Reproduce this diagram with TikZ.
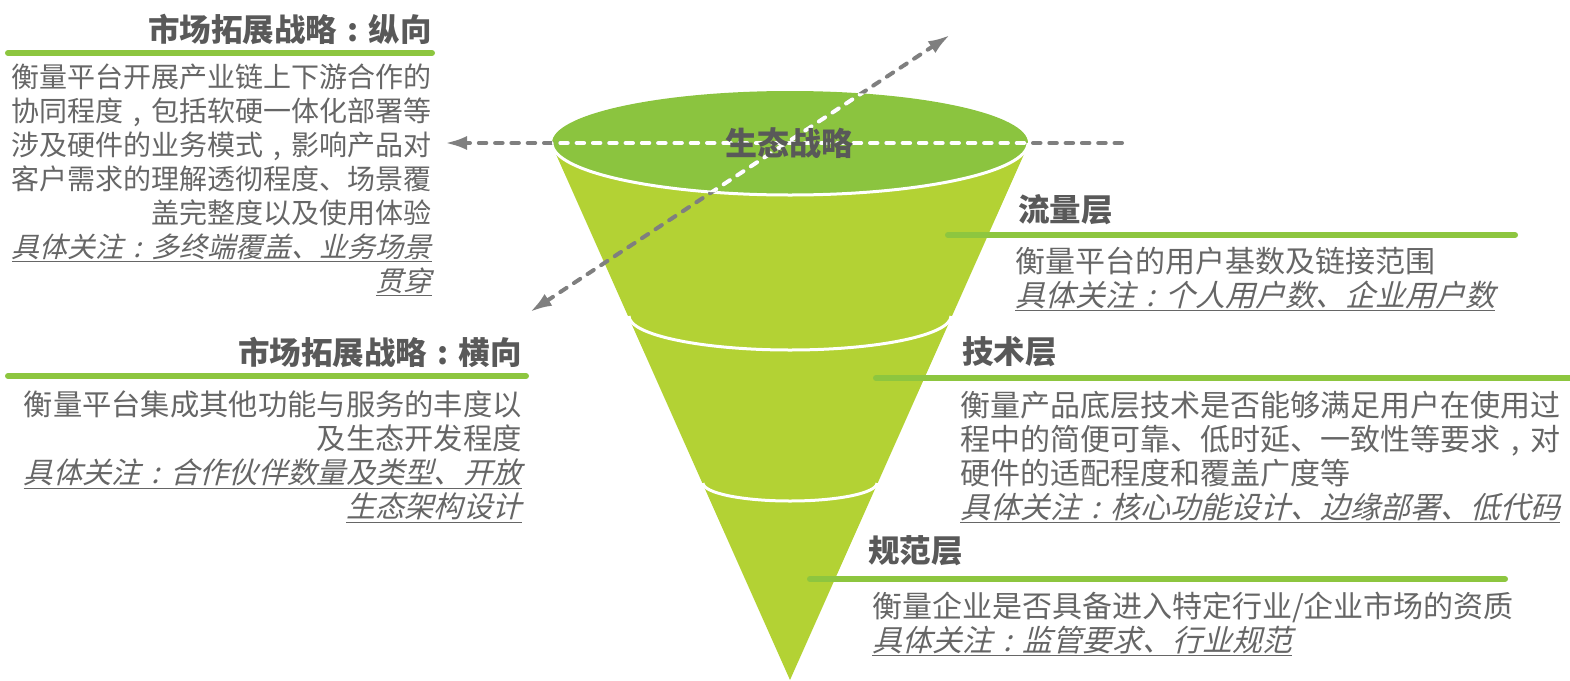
\documentclass[tikz,border=0pt]{standalone}
\usepackage{fontspec}
\setmainfont{Noto Sans CJK SC}
\newfontfamily\slantfont{Noto Sans CJK SC}[FakeSlant=0.25]
\usetikzlibrary{arrows.meta}
\definecolor{topgreen}{HTML}{8BC43F}
\definecolor{bodygreen}{HTML}{B3D234}
\definecolor{rulegreen}{HTML}{8DC63F}
\definecolor{headgray}{HTML}{595959}
\definecolor{textgray}{HTML}{666666}
\definecolor{arrowgray}{HTML}{7F7F7F}
\newcommand{\focus}[1]{{\slantfont\underline{#1}}}
\newcommand{\cn}{\makebox[1em][c]{:}}
\newcommand{\cm}{\makebox[1em][c]{,}}
\tikzset{
  heading/.style={font=\fontsize{31.5}{36}\selectfont\bfseries, text=headgray, inner sep=0pt},
  leftbody/.style={font=\fontsize{28}{34}\selectfont, text=textgray, align=right, inner sep=0pt, anchor=north east},
  rightbody/.style={font=\fontsize{30}{34}\selectfont, text=textgray, align=left, inner sep=0pt, anchor=north west},
  underrule/.style={rulegreen, line width=6pt, line cap=round},
  strategy/.style={arrowgray, line width=4pt, line cap=round, dash pattern=on 7.5pt off 8.8pt},
  gtip/.tip={Latex[length=22pt,width=14pt]}
}

\begin{document}
\begin{tikzpicture}[x=1pt,y=-1pt]
\useasboundingbox (0,0) rectangle (1570,680);

% funnel
\fill[bodygreen] (551,143) -- (1029,143) -- (790,680) -- cycle;
\fill[topgreen] (790,143) ellipse [x radius=238, y radius=52];
\draw[white, line width=3pt] (552,143) arc[start angle=180, end angle=0, x radius=238, y radius=52];
\draw[white, line width=3pt] (629,316) arc[start angle=180, end angle=0, x radius=161, y radius=34];
\draw[white, line width=3pt] (703,483) arc[start angle=180, end angle=0, x radius=87, y radius=18];

% strategy arrows
\coordinate (hstart) at (1122,143);
\coordinate (hend) at (445,143);
\coordinate (dlow) at (530,312);
\coordinate (dhigh) at (950,35);
\draw[strategy, -gtip] (hstart) -- (hend);
\draw[strategy, gtip-gtip] (dlow) -- (dhigh);
\begin{scope}
\clip (790,143) ellipse [x radius=238, y radius=52];
\draw[strategy, white, -gtip] (hstart) -- (hend);
\draw[strategy, white, gtip-gtip] (dlow) -- (dhigh);
\end{scope}
\node[heading, font=\fontsize{32}{36}\selectfont\bfseries] (eco) at (789,143) {生态战略};

% vertical market strategy
\node[heading, anchor=east] (vtitle) at (432,29) {市场拓展战略\cn 纵向};
\draw[underrule] (8,53) -- (432,53);
\node[leftbody] (vbody) at (432,64) {衡量平台开展产业链上下游合作的\\协同程度\cm 包括软硬一体化部署等\\涉及硬件的业务模式\cm 影响产品对\\客户需求的理解透彻程度、场景覆\\盖完整度以及使用体验\\\focus{具体关注\cn 多终端覆盖、业务场景}\\\focus{贯穿}};

% horizontal market strategy
\node[heading, anchor=east] (htitle) at (522,352) {市场拓展战略\cn 横向};
\draw[underrule] (8,376) -- (526,376);
\node[leftbody, font=\fontsize{29.3}{34}\selectfont] (hbody) at (522,391) {衡量平台集成其他功能与服务的丰度以\\及生态开发程度\\\focus{具体关注\cn 合作伙伴数量及类型、开放}\\\focus{生态架构设计}};

% layers
\node[heading, anchor=west] (flow) at (1018,210) {流量层};
\draw[underrule] (948,235) -- (1515,235);
\node[rightbody] (flowbody) at (1015,247) {衡量平台的用户基数及链接范围\\\focus{具体关注\cn 个人用户数、企业用户数}};

\node[heading, anchor=west] (tech) at (962,352) {技术层};
\draw[underrule] (876,378) -- (1572,378);
\node[rightbody] (techbody) at (960,391) {衡量产品底层技术是否能够满足用户在使用过\\程中的简便可靠、低时延、一致性等要求\cm 对\\硬件的适配程度和覆盖广度等\\\focus{具体关注\cn 核心功能设计、边缘部署、低代码}};

\node[heading, anchor=west] (norm) at (868,551) {规范层};
\draw[underrule] (810,579) -- (1505,579);
\node[rightbody] (normbody) at (872,592) {衡量企业是否具备进入特定行业/企业市场的资质\\\focus{具体关注\cn 监管要求、行业规范}};

\end{tikzpicture}
\end{document}
